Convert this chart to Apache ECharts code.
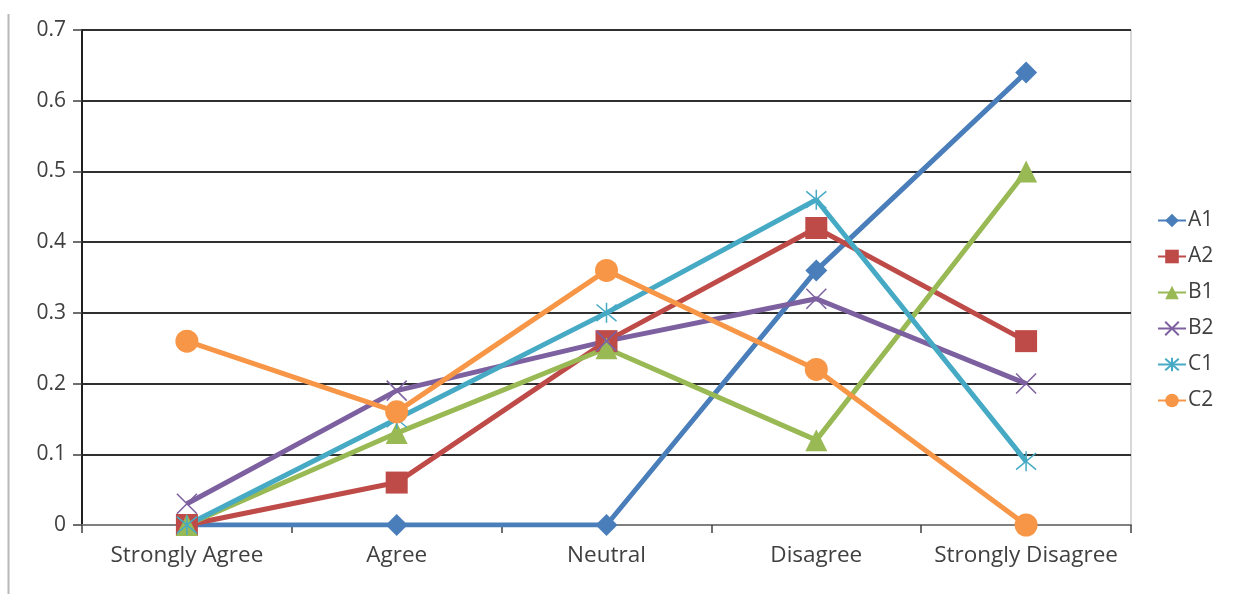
<!DOCTYPE html>
<html>
<head>
<meta charset="utf-8">
<script src="https://cdn.jsdelivr.net/npm/echarts@6/dist/echarts.min.js"></script>
<style>
  html, body { margin: 0; padding: 0; background: #fff; }
  #chart { width: 1235px; height: 594px; }
</style>
</head>
<body>
<div id="chart"></div>
<script>
// Response categories on the x axis
const categories = ['Strongly Agree', 'Agree', 'Neutral', 'Disagree', 'Strongly Disagree'];

// Share of responses per group
const A1 = [0, 0, 0, 0.36, 0.64];
const A2 = [0, 0.06, 0.26, 0.42, 0.26];
const B1 = [0, 0.13, 0.25, 0.12, 0.5];
const B2 = [0.03, 0.19, 0.26, 0.32, 0.2];
const C1 = [0, 0.15, 0.3, 0.46, 0.09];
const C2 = [0.26, 0.16, 0.36, 0.22, 0];

const yTicks = [0, 0.1, 0.2, 0.3, 0.4, 0.5, 0.6, 0.7];

const FONT = '"Open Sans", "Noto Sans", sans-serif';
const TEXT = '#404040';

const crossPath = 'path://M0,0L10,10M10,0L0,10';
const starPath = 'path://M0,0L10,10M10,0L0,10M5,-1L5,11';

function series(name, data, color, symbol, size, stroked) {
  return {
    name: name,
    type: 'line',
    data: data,
    symbol: symbol,
    symbolSize: size,
    lineStyle: { color: color, width: 5 },
    itemStyle: stroked
      ? { color: color, borderColor: color, borderWidth: 1.5 }
      : { color: color, borderWidth: 0 },
    emphasis: { disabled: true },
    z: 2
  };
}

const chart = echarts.init(document.getElementById('chart'), null, { renderer: 'canvas' });
chart.setOption({
  animation: false,
  backgroundColor: '#fff',
  grid: {
    left: 82, right: 104, top: 30, bottom: 69,
    show: true, borderColor: '#b0b0b0', borderWidth: 1, backgroundColor: 'transparent'
  },
  legend: {
    orient: 'vertical',
    left: 1152,
    top: 205,
    itemGap: 15,
    itemWidth: 28,
    itemHeight: 17,
    textStyle: { fontFamily: FONT, fontSize: 21, color: TEXT, padding: [0, 0, 0, -3] },
    data: ['A1', 'A2', 'B1', 'B2', 'C1', 'C2']
  },
  xAxis: {
    type: 'category',
    data: categories,
    boundaryGap: true,
    axisLine: { lineStyle: { color: '#808080', width: 2 } },
    axisTick: { show: true, length: 8, lineStyle: { color: '#404040', width: 1.5 } },
    axisLabel: {
      fontFamily: FONT, fontSize: 22.5, color: TEXT, margin: 19,
      interval: 0, hideOverlap: false
    },
    splitLine: { show: false }
  },
  yAxis: {
    type: 'value',
    min: 0, max: 0.7, interval: 0.1,
    axisLine: { show: true, lineStyle: { color: '#202020', width: 2 } },
    axisTick: { show: true, length: 9, lineStyle: { color: '#404040', width: 1.5 } },
    axisLabel: {
      fontFamily: FONT, fontSize: 21, color: TEXT, margin: 16,
      formatter: v => {
        const t = yTicks.find(x => Math.abs(x - v) < 1e-9);
        return t === 0 ? '0' : String(t);
      }
    },
    splitLine: { show: true, lineStyle: { color: '#303030', width: 2 } }
  },
  series: [
    series('A1', A1, '#4A7EBB', 'diamond', 22, false),
    series('A2', A2, '#BE4B48', 'rect', 22, false),
    series('B1', B1, '#98B954', 'triangle', 22, false),
    series('B2', B2, '#7D60A0', crossPath, 20, true),
    series('C1', C1, '#46AAC5', starPath, 20, true),
    series('C2', C2, '#F79646', 'circle', 23, false)
  ],
  graphic: [
    {
      type: 'line',
      shape: { x1: 8.5, y1: 14, x2: 8.5, y2: 594 },
      style: { stroke: '#b8b8b8', lineWidth: 2 },
      silent: true
    }
  ]
});
</script>
</body>
</html>
